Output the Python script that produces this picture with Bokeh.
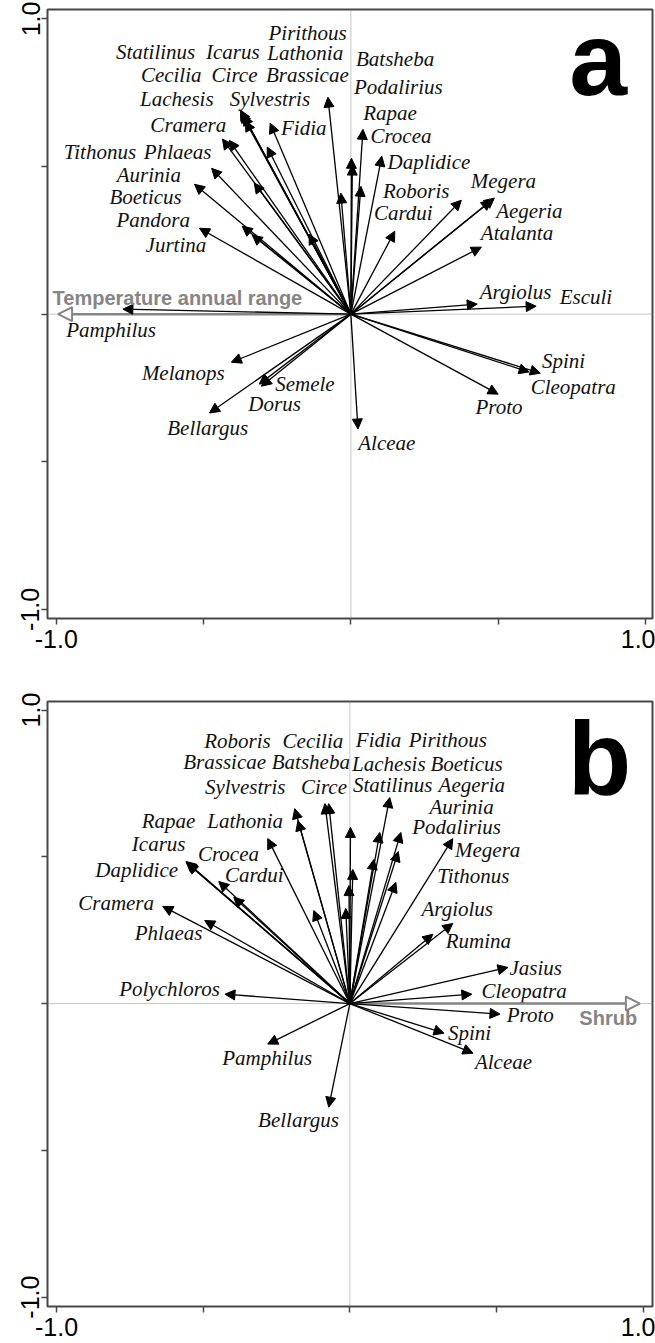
from bokeh.plotting import figure
from bokeh.models import (ColumnDataSource, Arrow, NormalHead, Span, Label,
                          FixedTicker, Range1d)
from bokeh.layouts import column
from bokeh.core.properties import value
from bokeh.embed import file_html
from bokeh.resources import INLINE

# ---------------- Panel a: species vectors vs. temperature annual range -------------
a_species = ["Pirithous", "Statilinus", "Icarus", "Circe", "Cecilia", "Lachesis",
             "Cramera", "Sylvestris", "Fidia", "Lathonia", "Brassicae", "Batsheba",
             "Podalirius", "Rapae", "Crocea", "Daplidice", "Roboris", "Cardui",
             "Megera", "Aegeria", "Atalanta", "Tithonus", "Phlaeas", "Aurinia",
             "Boeticus", "Jurtina", "Pandora", "Argiolus", "Esculi", "Pamphilus",
             "Spini", "Cleopatra", "Melanops", "Semele", "Dorus", "Bellargus",
             "Proto", "Alceae"]
a_x = [-0.078, -0.375, -0.365, -0.358, -0.372, -0.436,
       -0.413, -0.284, -0.274, -0.034, -0.142, 0.002,
       0.005, 0.041, 0.034, 0.105, 0.375, 0.149,
       0.487, 0.477, 0.443, -0.328, -0.473, -0.531,
       -0.369, -0.335, -0.514, 0.429, 0.629, -0.774,
       0.605, 0.643, -0.406, -0.304, -0.311, -0.480,
       0.500, 0.024]
a_y = [0.735, 0.691, 0.674, 0.654, 0.684, 0.593,
       0.589, 0.566, 0.647, 0.410, 0.271, 0.528,
       0.505, 0.626, 0.433, 0.535, 0.386, 0.281,
       0.393, 0.386, 0.227, 0.444, 0.494, 0.440,
       0.298, 0.268, 0.291, 0.034, 0.027, 0.017,
       -0.196, -0.200, -0.163, -0.244, -0.237, -0.335,
       -0.271, -0.389]
a_label_x = [-0.147, -0.663, -0.401, -0.395, -0.610, -0.591,
             -0.552, -0.275, -0.160, -0.155, -0.148, 0.150,
             0.161, 0.133, 0.170, 0.265, 0.222, 0.178,
             0.518, 0.606, 0.564, -0.852, -0.588, -0.686,
             -0.697, -0.594, -0.671, 0.559, 0.798, -0.814,
             0.722, 0.755, -0.569, -0.156, -0.259, -0.486,
             0.503, 0.122]
a_label_y = [0.954, 0.888, 0.888, 0.809, 0.809, 0.728,
             0.640, 0.728, 0.629, 0.884, 0.809, 0.863,
             0.768, 0.680, 0.603, 0.514, 0.418, 0.341,
             0.451, 0.350, 0.275, 0.550, 0.550, 0.471,
             0.397, 0.234, 0.318, 0.076, 0.059, -0.054,
             -0.158, -0.248, -0.199, -0.235, -0.305, -0.384,
             -0.316, -0.436]
a_env = "Temperature annual range"
a_env_x = -0.994
a_env_y = 0.0
a_env_label_x = -0.589
a_env_label_y = 0.055

# ---------------- Panel b: species vectors vs. shrub cover -------------------------
b_species = ["Polychloros", "Cramera", "Phlaeas", "Rapae", "Icarus", "Daplidice",
             "Crocea", "Cardui", "Lathonia", "Sylvestris", "Brassicae", "Roboris",
             "Batsheba", "Circe", "Cecilia", "Fidia", "Lachesis", "Pirithous",
             "Statilinus", "Boeticus", "Aegeria", "Aurinia", "Podalirius",
             "Tithonus", "Megera", "Argiolus", "Rumina", "Jasius", "Cleopatra",
             "Proto", "Spini", "Alceae", "Pamphilus", "Bellargus"]
b_x = [-0.426, -0.638, -0.495, -0.556, -0.553, -0.559,
       -0.447, -0.396, -0.280, -0.188, -0.177, -0.123,
       -0.085, -0.072, 0.002, 0.010, -0.003, -0.014,
       0.136, 0.102, 0.174, 0.165, 0.082,
       0.157, 0.351, 0.283, 0.351, 0.539, 0.416,
       0.512, 0.321, 0.420, -0.280, -0.072]
b_y = [0.032, 0.331, 0.283, 0.481, 0.476, 0.484,
       0.416, 0.362, 0.562, 0.664, 0.623, 0.317,
       0.681, 0.681, 0.600, 0.457, 0.402, 0.324,
       0.702, 0.583, 0.583, 0.518, 0.491,
       0.413, 0.562, 0.236, 0.273, 0.123, 0.032,
       -0.036, -0.101, -0.169, -0.138, -0.353]
b_label_x = [-0.615, -0.797, -0.618, -0.618, -0.652, -0.727,
             -0.414, -0.326, -0.357, -0.357, -0.427, -0.383,
             -0.133, -0.088, -0.126, 0.098, 0.133, 0.334,
             0.146, 0.398, 0.416, 0.381, 0.364,
             0.421, 0.470, 0.366, 0.438, 0.634, 0.594,
             0.615, 0.408, 0.524, -0.282, -0.175]
b_label_y = [0.051, 0.342, 0.241, 0.623, 0.542, 0.456,
             0.508, 0.439, 0.623, 0.737, 0.822, 0.896,
             0.822, 0.737, 0.896, 0.898, 0.816, 0.898,
             0.743, 0.816, 0.743, 0.669, 0.601,
             0.436, 0.524, 0.323, 0.213, 0.122, 0.042,
             -0.040, -0.099, -0.199, -0.184, -0.397]
b_env = "Shrub"
b_env_x = 0.989
b_env_y = 0.0
b_env_label_x = 0.881
b_env_label_y = -0.048

TICKS = [-1.0, -0.5, 0.0, 0.5, 1.0]
SERIF = value("Liberation Serif")
SANS = "Liberation Sans"
FRAME_GREY = "#474747"
ENV_GREY = "#858585"


def make_panel(species, xs, ys, lxs, lys, env, ex, ey, elx, ely, letter,
               letter_x, letter_y, x_rng, y_rng, height, borders):
    top, bottom, left, right = borders
    p = figure(width=655, height=height, output_backend="svg",
               toolbar_location=None, x_range=Range1d(*x_rng),
               y_range=Range1d(*y_rng), min_border_top=top,
               min_border_bottom=bottom, min_border_left=left,
               min_border_right=right)
    p.grid.visible = False
    p.outline_line_color = FRAME_GREY
    p.outline_line_width = 2
    p.background_fill_color = "white"
    p.border_fill_color = "white"

    for ax in (p.xaxis[0], p.yaxis[0]):
        ax.ticker = FixedTicker(ticks=TICKS, minor_ticks=[])
        ax.major_label_overrides = {-1.0: "-1.0", -0.5: "", 0.0: "", 0.5: "", 1.0: "1.0"}
        ax.axis_line_color = None
        ax.major_tick_in = 0
        ax.major_tick_out = 6
        ax.major_tick_line_color = FRAME_GREY
        ax.major_tick_line_width = 1.5
        ax.major_label_text_font = SANS
        ax.major_label_text_font_size = "25px"
        ax.major_label_text_color = "black"
    p.xaxis[0].major_label_standoff = 5
    p.yaxis[0].major_label_standoff = 2
    p.yaxis[0].major_label_orientation = "vertical"

    # dotted reference lines through the origin
    for dim, loc in (("height", 0), ("width", 0)):
        p.add_layout(Span(location=loc, dimension=dim, line_color="#8c8c8c",
                          line_width=1, line_dash="1 1"))

    # environmental variable vector (grey, open head)
    env_src = ColumnDataSource(dict(x0=[0.0], y0=[0.0], x1=[ex], y1=[ey]))
    p.add_layout(Arrow(source=env_src, x_start="x0", y_start="y0",
                       x_end="x1", y_end="y1", line_color=ENV_GREY, line_width=2.5,
                       end=NormalHead(size=14, fill_color="white",
                                      line_color=ENV_GREY, line_width=2)))

    # species vectors
    src = ColumnDataSource(dict(x0=[0.0] * len(xs), y0=[0.0] * len(ys),
                                x1=xs, y1=ys, lx=lxs, ly=lys, name=species))
    p.add_layout(Arrow(source=src, x_start="x0", y_start="y0", x_end="x1",
                       y_end="y1", line_color="black", line_width=1.3,
                       end=NormalHead(size=10, fill_color="black",
                                      line_color="black", line_width=1)))

    p.text(x="lx", y="ly", text="name", source=src, text_font=SERIF,
           text_font_style="italic", text_font_size="21px", text_color="#111111",
           text_align="center", text_baseline="middle")

    p.add_layout(Label(x=elx, y=ely, text=env, text_font=SANS,
                       text_font_style="bold", text_font_size="20px",
                       text_color=ENV_GREY, text_align="center",
                       text_baseline="middle"))

    p.add_layout(Label(x=letter_x, y=letter_y, text=letter, text_font=SANS,
                       text_font_style="bold", text_font_size="104px",
                       text_color="black", text_align="right",
                       text_baseline="alphabetic"))
    return p


pa = make_panel(a_species, a_x, a_y, a_label_x, a_label_y, a_env, a_env_x,
                a_env_y, a_env_label_x, a_env_label_y, "a", 0.938, 0.866,
                (-1.030, 1.024), (-1.031, 1.032), 690, (9, 72, 45, 3))
pb = make_panel(b_species, b_x, b_y, b_label_x, b_label_y, b_env, b_env_x,
                b_env_y, b_env_label_x, b_env_label_y, "b", 0.960, 0.838,
                (-1.031, 1.032), (-1.032, 1.029), 653, (11, 37, 47, 3))

layout = column(pa, pb, spacing=0)
open("out.html", "w").write(file_html(layout, INLINE))
